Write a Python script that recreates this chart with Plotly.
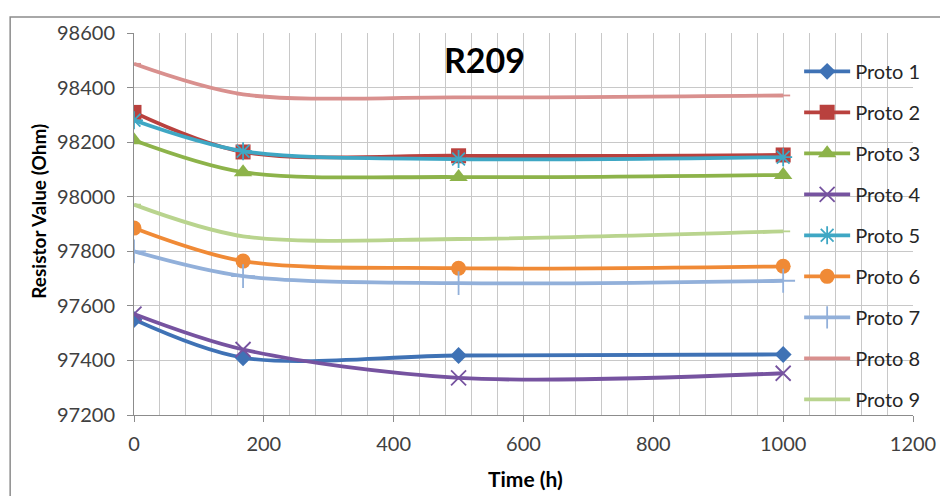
import plotly.graph_objects as go

time_h = [0, 168, 500, 1000]
proto1 = [97550, 97410, 97418, 97422]
proto2 = [98309, 98164, 98150, 98153]
proto3 = [98207, 98090, 98072, 98080]
proto4 = [97570, 97440, 97336, 97353]
proto5 = [98280, 98167, 98138, 98145]
proto6 = [97885, 97764, 97738, 97745]
proto7 = [97800, 97709, 97683, 97692]
proto8 = [98487, 98375, 98364, 98371]
proto9 = [97971, 97855, 97845, 97873]

names = ["Proto 1", "Proto 2", "Proto 3", "Proto 4", "Proto 5",
         "Proto 6", "Proto 7", "Proto 8", "Proto 9"]
series = [proto1, proto2, proto3, proto4, proto5, proto6, proto7, proto8, proto9]
colors = ["#3F72B5", "#B9413E", "#8DB34A", "#7653A0", "#3FA7C4",
          "#F08A36", "#92B0DA", "#D9908E", "#B9D48E"]
symbols = ["diamond", "square", "triangle-up", "x-thin", "asterisk",
           "circle", "cross-thin", "line-ew", "line-ew"]
sizes = [13, 15, 16, 15, 15, 15, 17, 10, 10]

# page body has an 8px margin: figure is 940x488 placed at (8, 8)
OFF = 8
PL, PR, PT, PB = 134, 914, 30, 415  # plot area in window pixels


def px(xw):
    return (xw - PL) / (PR - PL)


def py(yw):
    return (PB - yw) / (PB - PT)


fig = go.Figure()
for nm, ys, c, s, sz in zip(names, series, colors, symbols, sizes):
    thin = s in ("x-thin", "asterisk", "cross-thin", "line-ew")
    fig.add_trace(go.Scatter(
        x=time_h, y=ys, name=nm, mode="lines+markers",
        line=dict(color=c, width=3.8, shape="spline", smoothing=0.9),
        marker=dict(symbol=s, size=sz, color=c,
                    line=dict(color=c, width=1.8 if thin else 0)),
        legendgroup=nm,
    ))

font_family = "Lato, 'Open Sans', sans-serif"
fig.update_layout(
    width=948 - OFF, height=496 - OFF,
    margin=dict(l=PL - OFF, r=948 - PR, t=PT - OFF, b=496 - PB),
    paper_bgcolor="white", plot_bgcolor="white",
    font=dict(family=font_family, color="#404040"),
    showlegend=True,
    legend=dict(x=px(800), y=py(49), xanchor="left", yanchor="top",
                bgcolor="rgba(0,0,0,0)", font=dict(size=20, color="#262626"),
                traceorder="grouped", tracegroupgap=12, itemwidth=46),
    xaxis=dict(range=[0, 1200], dtick=200, tick0=0, showgrid=True,
               gridcolor="#c8c8c8", gridwidth=1,
               minor=dict(dtick=40, showgrid=True, gridcolor="#c8c8c8", gridwidth=1),
               showline=True, linecolor="#8c8c8c", linewidth=1,
               ticks="outside", ticklen=6, tickcolor="#8c8c8c",
               ticklabelstandoff=5,
               tickfont=dict(size=20, color="#404040"), zeroline=False,
               fixedrange=True),
    yaxis=dict(range=[97200, 98600], dtick=200, showgrid=True,
               gridcolor="#c8c8c8", gridwidth=1,
               showline=True, linecolor="#8c8c8c", linewidth=1,
               ticks="outside", ticklen=6, tickcolor="#8c8c8c",
               ticklabelstandoff=8,
               tickfont=dict(size=20, color="#404040"), zeroline=False,
               tickformat="d", fixedrange=True),
    annotations=[
        dict(text="<b>R209</b>", x=px(485), y=py(57),
             xref="paper", yref="paper", showarrow=False,
             xanchor="center", yanchor="middle",
             font=dict(size=34, color="#000000", family=font_family)),
        dict(text="<b>Time (h)</b>", x=px(526), y=py(479),
             xref="paper", yref="paper", showarrow=False,
             xanchor="center", yanchor="middle",
             font=dict(size=21, color="#000000", family=font_family)),
        dict(text="<b>Resistor Value (Ohm)</b>", x=px(38), y=py(210),
             xref="paper", yref="paper", showarrow=False, textangle=-90,
             xanchor="center", yanchor="middle",
             font=dict(size=19, color="#000000", family=font_family)),
    ],
    shapes=[
        dict(type="rect", xref="paper", yref="paper",
             x0=px(10), x1=px(946), y0=py(530), y1=py(14),
             line=dict(color="#8c8c8c", width=1.5), layer="below"),
    ],
)

fig.write_html("out.html")
